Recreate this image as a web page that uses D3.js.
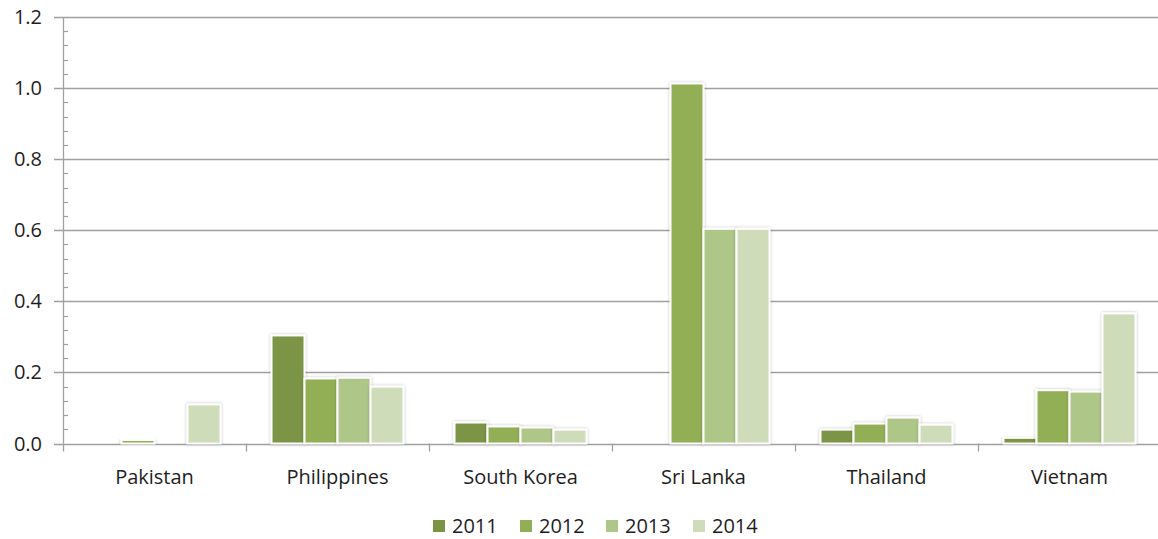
<!DOCTYPE html>
<html>
<head>
<meta charset="utf-8">
<script src="https://cdn.jsdelivr.net/npm/d3@7"></script>
<style>
  html, body { margin: 0; padding: 0; background: #fff; }
  svg { display: block; font-family: "Open Sans", sans-serif; }
</style>
</head>
<body>
<svg id="chart" width="1158" height="539"></svg>
<script>
const categories = ["Pakistan", "Philippines", "South Korea", "Sri Lanka", "Thailand", "Vietnam"];
const seriesNames = ["2011", "2012", "2013", "2014"];
const values2011 = [0, 0.304, 0.059, 0, 0.039, 0.016];
const values2012 = [0.010, 0.183, 0.048, 1.013, 0.056, 0.150];
const values2013 = [0, 0.185, 0.045, 0.604, 0.073, 0.146];
const values2014 = [0.110, 0.160, 0.039, 0.604, 0.053, 0.366];
const yTicks = [0, 0.2, 0.4, 0.6, 0.8, 1.0, 1.2];
const colors = ["#7b9444", "#93af56", "#aec688", "#cfdcb9"];

const seriesValues = [values2011, values2012, values2013, values2014];

const svg = d3.select("#chart");
const plotL = 63, plotR = 1161, plotT = 17, plotB = 443.5;

const x0 = d3.scaleBand().domain(categories).range([plotL, plotR]).padding(0);
const groupW = 132;
const x1 = d3.scaleBand().domain(seriesNames)
  .range([(x0.bandwidth() - groupW) / 2, (x0.bandwidth() + groupW) / 2]).padding(0);
const y = d3.scaleLinear().domain([0, 1.2]).range([plotB, plotT]);

const defs = svg.append("defs");
const f = defs.append("filter").attr("id", "sh").attr("x", "-20%").attr("y", "-20%").attr("width", "140%").attr("height", "140%");
f.append("feDropShadow").attr("dx", 0).attr("dy", 0).attr("stdDeviation", 1.6)
  .attr("flood-color", "#000").attr("flood-opacity", 0.28);

// gridlines
svg.append("g").selectAll("line").data(yTicks).join("line")
  .attr("x1", plotL - 9).attr("x2", 1158)
  .attr("y1", d => Math.round(y(d)) + 0.5).attr("y2", d => Math.round(y(d)) + 0.5)
  .attr("stroke", "#a0a0a0").attr("stroke-width", 1.3);

// minor ticks
const minor = d3.range(0, 1.2001, 0.04).filter(v => Math.abs(v / 0.2 - Math.round(v / 0.2)) > 1e-6);
svg.append("g").selectAll("line").data(minor).join("line")
  .attr("x1", plotL).attr("x2", plotL + 5)
  .attr("y1", d => Math.round(y(d)) + 0.5).attr("y2", d => Math.round(y(d)) + 0.5)
  .attr("stroke", "#a0a0a0").attr("stroke-width", 1.2);

// y axis line
svg.append("line").attr("x1", plotL + 0.5).attr("x2", plotL + 0.5)
  .attr("y1", y(1.2)).attr("y2", y(0)).attr("stroke", "#a0a0a0").attr("stroke-width", 1.3);

// y labels
svg.append("g").selectAll("text").data(yTicks).join("text")
  .attr("x", 42).attr("y", d => y(d) + 7)
  .attr("text-anchor", "end").attr("font-size", 20).attr("fill", "#1e1e1e")
  .text(d => d.toFixed(1));

// x ticks at category boundaries
const bounds = categories.map(c => x0(c)).concat([plotR]);
svg.append("g").selectAll("line").data(bounds).join("line")
  .attr("x1", d => Math.round(d) + 0.5).attr("x2", d => Math.round(d) + 0.5)
  .attr("y1", plotB).attr("y2", plotB + 8)
  .attr("stroke", "#a0a0a0").attr("stroke-width", 1.3);

// bars
const data = [];
categories.forEach((c, i) => seriesNames.forEach((s, j) => data.push({ c, s, j, v: seriesValues[j][i] })));
svg.append("g").selectAll("rect").data(data.filter(d => d.v > 0)).join("rect")
  .attr("x", d => x0(d.c) + x1(d.s))
  .attr("width", x1.bandwidth())
  .attr("y", d => y(d.v))
  .attr("height", d => y(0) - y(d.v))
  .attr("fill", d => colors[d.j])
  .attr("stroke", "#fff").attr("stroke-width", 2)
  .attr("filter", "url(#sh)");

// category labels
svg.append("g").selectAll("text").data(categories).join("text")
  .attr("x", d => x0(d) + x0.bandwidth() / 2).attr("y", 484)
  .attr("text-anchor", "middle").attr("font-size", 20).attr("fill", "#1e1e1e")
  .text(d => d);

// legend
const legendX = [433, 520, 606, 693];
const lg = svg.append("g").selectAll("g").data(seriesNames).join("g")
  .attr("transform", (d, i) => `translate(${legendX[i]},0)`);
lg.append("rect").attr("x", 0).attr("y", 520).attr("width", 12).attr("height", 12)
  .attr("fill", (d, i) => colors[i]);
lg.append("text").attr("x", 19).attr("y", 533).attr("font-size", 20).attr("fill", "#1e1e1e")
  .text(d => d);
</script>
</body>
</html>
